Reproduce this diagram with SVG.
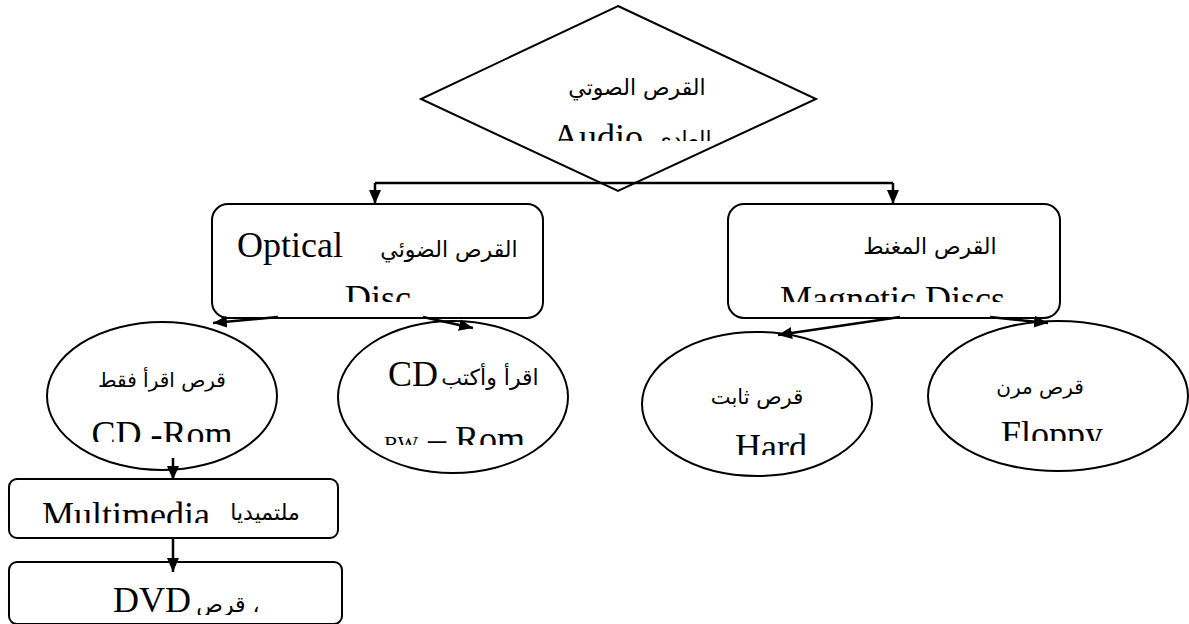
<svg xmlns="http://www.w3.org/2000/svg" width="1189" height="624" viewBox="0 0 1189 624">
<style>
.shape{fill:#fff;stroke:#000;stroke-width:2}
.lat{font-family:"Liberation Serif","Times New Roman",serif;font-size:36px;fill:#000}
.ar{font-family:"DejaVu Sans",sans-serif;font-size:22px;fill:#000}
.sc{font-family:"Liberation Serif","Times New Roman",serif;font-size:22px;fill:#000}
.conn{fill:none;stroke:#000;stroke-width:2.5}
</style>
<defs>
<marker id="arr" viewBox="0 0 14 12" refX="14" refY="6" markerWidth="14" markerHeight="12" markerUnits="userSpaceOnUse" orient="auto">
<path d="M0,0 L14,6 L0,12 Z" fill="#000"/>
</marker>
<clipPath id="cAudio"><rect x="520" y="104" width="220" height="37"/></clipPath>
<clipPath id="cDisc"><rect x="220" y="280" width="320" height="22"/></clipPath>
<clipPath id="cMag"><rect x="740" y="280" width="310" height="22"/></clipPath>
<clipPath id="cRom"><rect x="60" y="400" width="210" height="42"/></clipPath>
<clipPath id="cRW"><rect x="350" y="410" width="210" height="35"/></clipPath>
<clipPath id="cHard"><rect x="660" y="415" width="200" height="40"/></clipPath>
<clipPath id="cFloppy"><rect x="940" y="405" width="240" height="36"/></clipPath>
<clipPath id="cMulti"><rect x="12" y="482" width="320" height="41"/></clipPath>
<clipPath id="cDVD"><rect x="12" y="565" width="326" height="50"/></clipPath>
</defs>

<g id="node-audio">
<polygon class="shape" points="618,6 816,99 618,191 421,99"/>
<text class="ar" x="637" y="95" text-anchor="middle">القرص الصوتي</text>
<g clip-path="url(#cAudio)">
<text class="lat" x="553" y="149">Audio</text>
<text class="ar" x="683" y="147" text-anchor="middle">العادي</text>
</g>
</g>

<g id="node-optical">
<rect class="shape" x="212" y="204" width="331" height="114" rx="16"/>
<text class="ar" x="449" y="257" text-anchor="middle">القرص الضوئي</text>
<text class="lat" x="237" y="257">Optical</text>
<text class="lat" x="345" y="310" clip-path="url(#cDisc)">Disc</text>
</g>

<g id="node-magnetic">
<rect class="shape" x="728" y="204" width="332" height="114" rx="16"/>
<text class="ar" x="930" y="254" text-anchor="middle">القرص المغنط</text>
<text class="lat" x="780" y="311" clip-path="url(#cMag)">Magnetic Discs</text>
</g>

<g id="node-cdrom">
<ellipse class="shape" cx="162" cy="396" rx="115" ry="74"/>
<text class="ar" x="162" y="387" text-anchor="middle" style="font-size:20px">قرص اقرأ فقط</text>
<text class="lat" x="162" y="446" text-anchor="middle" clip-path="url(#cRom)">CD -Rom</text>
</g>

<g id="node-rw">
<ellipse class="shape" cx="453" cy="397" rx="115" ry="76"/>
<text class="lat" x="388" y="386">CD</text>
<text class="ar" x="490" y="385" text-anchor="middle">اقرأ وأكتب</text>
<g clip-path="url(#cRW)">
<text class="sc" x="384" y="451">RW</text>
<text class="lat" x="428" y="451">– Rom</text>
</g>
</g>

<g id="node-hard">
<ellipse class="shape" cx="757" cy="404" rx="115" ry="72"/>
<text class="ar" x="757" y="404" text-anchor="middle" style="font-size:21px">قرص ثابت</text>
<text class="lat" x="771" y="459" text-anchor="middle" clip-path="url(#cHard)">Hard</text>
</g>

<g id="node-floppy">
<ellipse class="shape" cx="1058" cy="396" rx="130" ry="75"/>
<text class="ar" x="1040" y="394" text-anchor="middle" style="font-size:20px">قرص مرن</text>
<text class="lat" x="1052" y="446" text-anchor="middle" clip-path="url(#cFloppy)">Floppy</text>
</g>

<g id="node-multimedia">
<rect class="shape" x="9" y="479" width="329" height="59" rx="8"/>
<g clip-path="url(#cMulti)">
<text class="lat" x="42" y="527">Multimedia</text>
<text class="ar" x="265" y="520" text-anchor="middle">ملتميديا</text>
</g>
</g>

<g id="node-dvd">
<rect class="shape" x="9" y="562" width="333" height="62" rx="8"/>
<g clip-path="url(#cDVD)">
<text class="lat" x="113" y="612">DVD</text>
<text class="ar" x="228" y="612" text-anchor="middle">قرص ،</text>
</g>
</g>

<g id="connectors">
<path class="conn" d="M375,183 H893"/>
<line class="conn" x1="375" y1="183" x2="375" y2="204" marker-end="url(#arr)"/>
<line class="conn" x1="893" y1="183" x2="893" y2="204" marker-end="url(#arr)"/>
<line class="conn" x1="278" y1="317" x2="213" y2="323" marker-end="url(#arr)"/>
<line class="conn" x1="423" y1="317" x2="473" y2="328" marker-end="url(#arr)"/>
<line class="conn" x1="900" y1="317" x2="778" y2="335" marker-end="url(#arr)"/>
<line class="conn" x1="990" y1="317" x2="1048" y2="323" marker-end="url(#arr)"/>
<line class="conn" x1="173" y1="458" x2="173" y2="480" marker-end="url(#arr)"/>
<line class="conn" x1="173" y1="538" x2="173" y2="572" marker-end="url(#arr)"/>
</g>
</svg>
